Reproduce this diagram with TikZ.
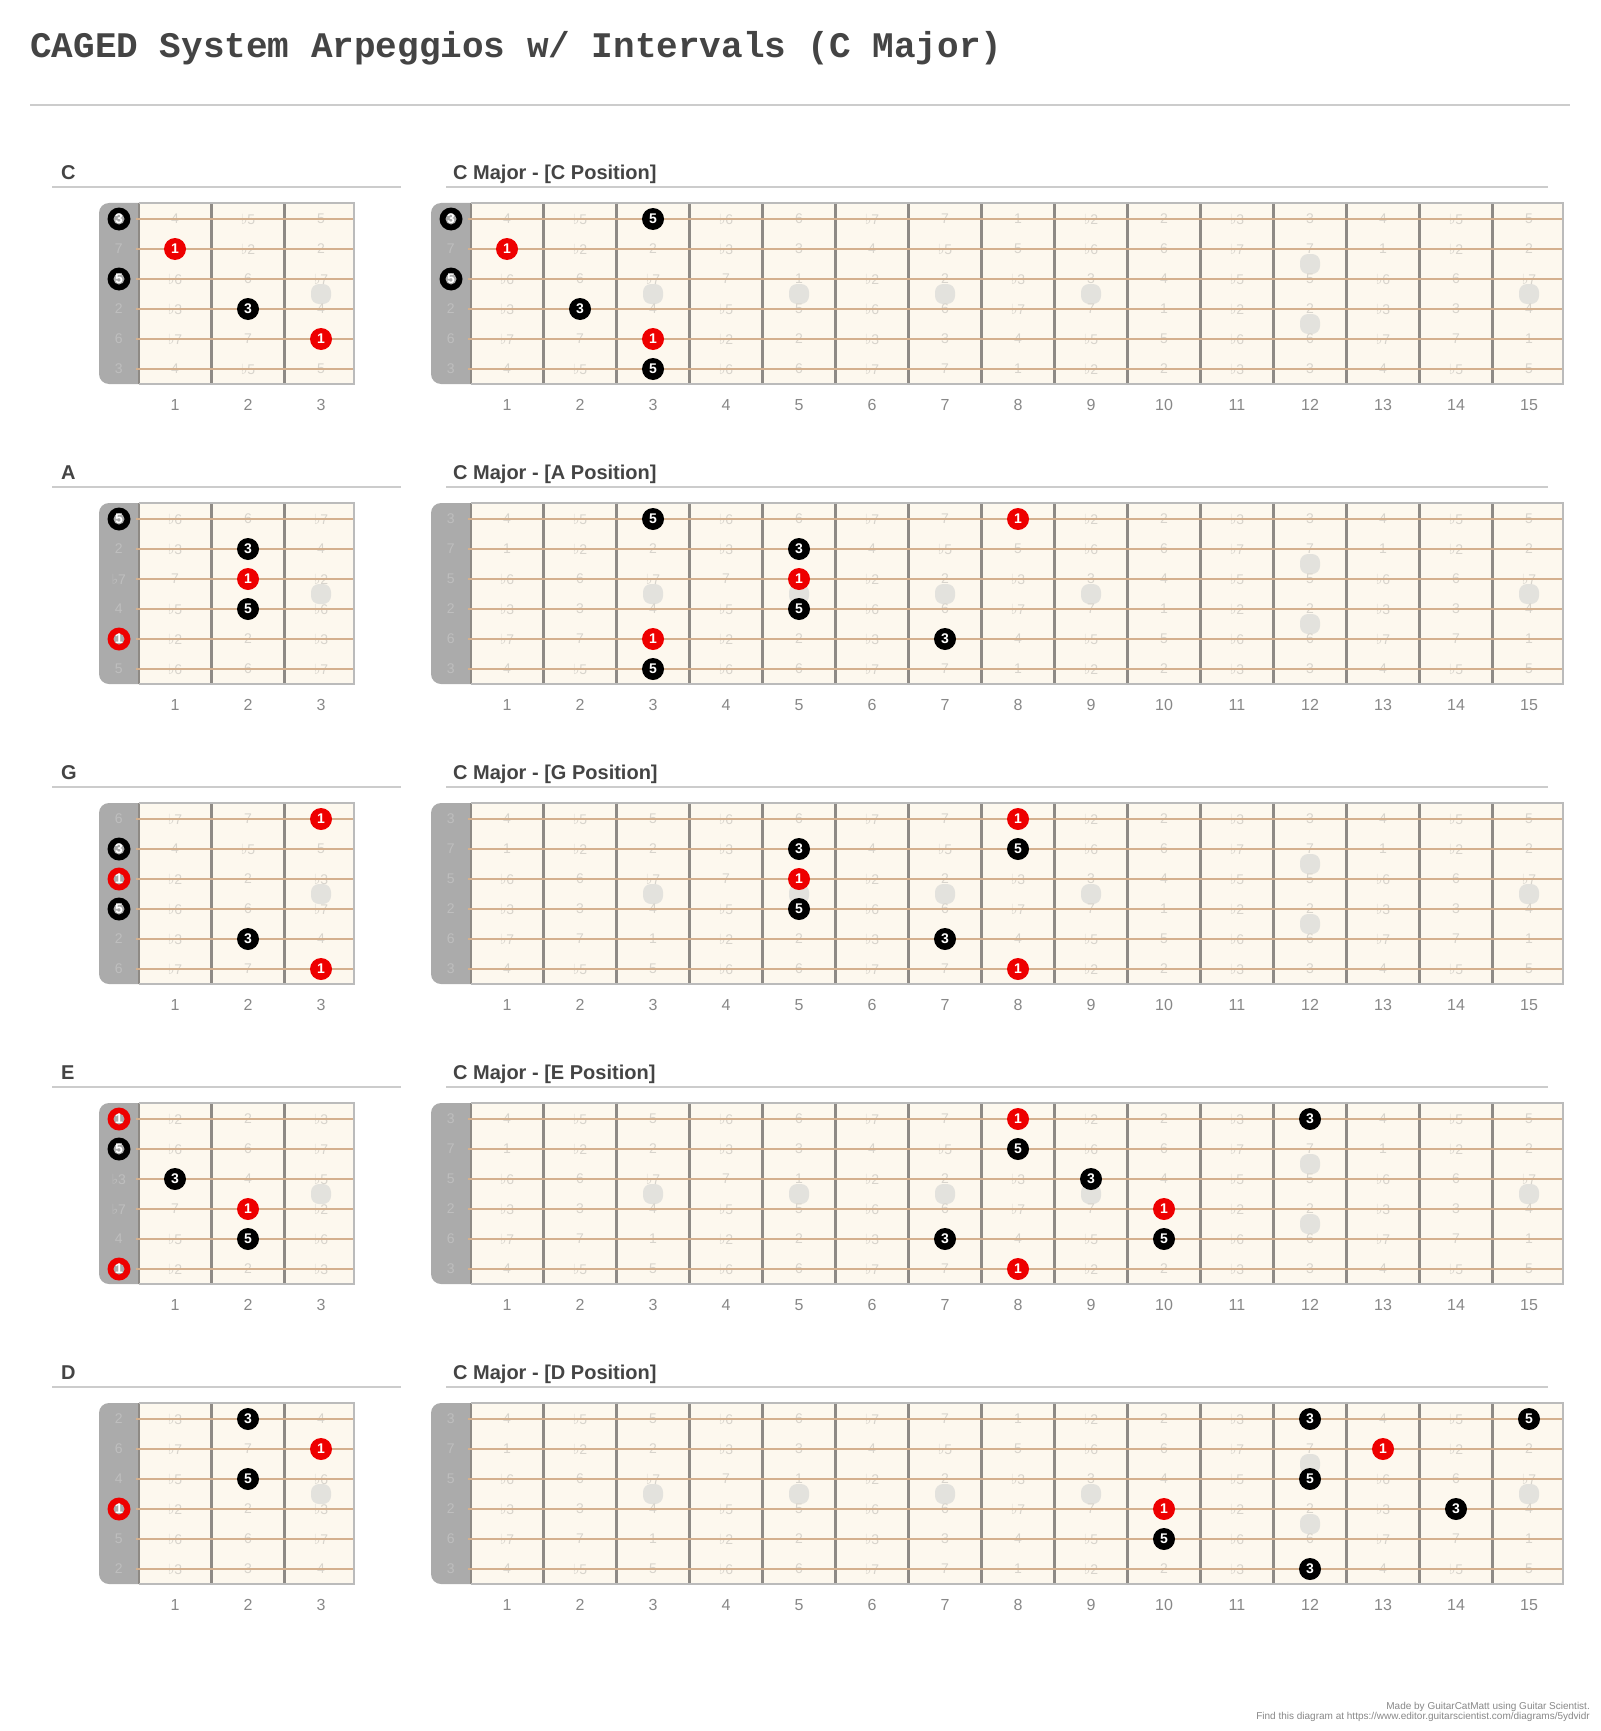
\documentclass[tikz,border=0pt]{standalone}
\usepackage{fontspec}
\setmainfont{Liberation Sans}
\newfontfamily\titlefont{Liberation Mono}
\newfontfamily\symf{DejaVu Sans}
\definecolor{nutbg}{HTML}{ABABAB}
\definecolor{nutlabcol}{HTML}{BEBEBE}
\definecolor{boardbg}{HTML}{FDF8EE}
\definecolor{stringcol}{HTML}{D4B08E}
\definecolor{fretcol}{HTML}{8E8A85}
\definecolor{bordercol}{HTML}{BBBBBB}
\definecolor{inlaycol}{HTML}{E3E2DD}
\definecolor{labcol}{HTML}{D8D4CC}
\definecolor{redmk}{HTML}{EE0000}
\definecolor{fnumcol}{HTML}{888888}
\definecolor{hdrcol}{HTML}{444444}
\definecolor{rulecol}{HTML}{CCCCCC}
\newcommand\fl{{\symf ♭}}
\newcommand\ivname[1]{\ifcase\numexpr#1\relax 1\or\fl 2\or 2\or\fl 3\or 3\or 4\or\fl 5\or 5\or\fl 6\or 6\or\fl 7\or 7\fi}
\newcommand\fw{73}
\tikzset{
  fretlab/.style={font=\fontsize{14}{14}\selectfont, text=labcol, inner sep=0pt},
  nutlab/.style={font=\fontsize{14}{14}\selectfont, text=nutlabcol, inner sep=0pt},
  mklab/.style={font=\bfseries\fontsize{14}{14}\selectfont, text=white, inner sep=0pt},
  fnum/.style={font=\fontsize{16}{16}\selectfont, text=fnumcol, inner sep=0pt},
  hdr/.style={font=\bfseries\fontsize{20}{20}\selectfont, text=hdrcol, inner sep=0pt, anchor=base west},
  rule/.style={rulecol, line width=2pt},
  fretline/.style={fretcol, line width=3pt},
  stringline/.style={stringcol, line width=2pt},
  inlay/.style={fill=inlaycol, rounded corners=8pt},
}
% #1 box left, #2 nut x, #3 frets, #4 right edge, #5 top string y, #6 root
\newcommand\fboard[6]{%
  \pgfmathsetmacro\bt{#5-16}%
  \pgfmathsetmacro\bb{#5+165}%
  \fill[nutbg, rounded corners=10pt] (#1,\bt) rectangle ({#2+14},\bb);
  \fill[boardbg] (#2,\bt) rectangle (#4,\bb);
  \foreach \f in {3,5,7,9,15}{%
    \ifnum\f>#3\else
      \fill[inlay] ({#2+\fw*(\f-0.5)-10},{#5+65}) rectangle ++(20,20);
    \fi}
  \ifnum#3>11
    \fill[inlay] ({#2+\fw*11.5-10},{#5+35}) rectangle ++(20,20);
    \fill[inlay] ({#2+\fw*11.5-10},{#5+95}) rectangle ++(20,20);
  \fi
  \pgfmathtruncatemacro\nf{#3-1}%
  \foreach \k in {1,...,\nf}{%
    \draw[fretline] ({#2+\fw*\k},\bt) -- ({#2+\fw*\k},\bb);}
  \draw[fretcol, line width=2pt] (#2,\bt) -- (#2,\bb);
  \foreach \s/\o in {0/4,1/11,2/7,3/2,4/9,5/4}{%
    \pgfmathtruncatemacro\n{mod(\o-#6+24,12)}%
    \node[nutlab] at ({(#1+#2)/2},{#5+30*\s}) {\ivname{\n}};
    \foreach \f in {1,...,#3}{%
      \pgfmathtruncatemacro\n{mod(\o+\f-#6+24,12)}%
      \node[fretlab] at ({#2+\fw*(\f-0.5)},{#5+30*\s}) {\ivname{\n}};
    }
    \draw[stringline] ({#2-3},{#5+30*\s}) -- (#4,{#5+30*\s});
  }
  \draw[bordercol, line width=1.2pt] (#2,\bt) -- (#4,\bt) -- (#4,\bb) -- (#2,\bb);
  \foreach \f in {1,...,#3}{%
    \node[fnum] at ({#2+\fw*(\f-0.5)},{#5+186}) {\f};}
}
% fretted marker: #1 nut x, #2 top string y, #3 fret, #4 string, #5 colour, #6 text
\newcommand\mkf[6]{%
  \fill[#5] ({#1+\fw*(#3-0.5)},{#2+30*(#4-1)}) circle (11pt);
  \node[mklab] at ({#1+\fw*(#3-0.5)},{#2+30*(#4-1)}) {#6};
}
% open-string marker: #1 nut centre x, #2 top string y, #3 string, #4 colour, #5 text
\newcommand\mko[5]{%
  \fill[#4] (#1,{#2+30*(#3-1)}) circle (11.5pt);
  \fill[nutbg] (#1,{#2+30*(#3-1)}) circle (5.5pt);
  \node[mklab] at (#1,{#2+30*(#3-1)}) {#5};
}
\begin{document}
\begin{tikzpicture}[x=1pt,y=-1pt]
\useasboundingbox (0,0) rectangle (1600,1731);
\fill[white] (0,0) rectangle (1600,1731);
\node[anchor=base west, inner sep=0pt, text=hdrcol, font=\titlefont\bfseries\fontsize{36}{36}\selectfont] (title) at (30,58) {CAGED System Arpeggios w/ Intervals (C Major)};
\draw[rule] (30,105) -- (1570,105);
% rows
\foreach \r/\sh in {0/C,1/A,2/G,3/E,4/D}{%
  \node[hdr] at (61,{179+300*\r}) {\sh};
  \node[hdr] at (453,{179+300*\r}) {C Major - [\sh\ Position]};
  \draw[rule] (52,{187+300*\r}) -- (401,{187+300*\r});
  \draw[rule] (446,{187+300*\r}) -- (1548,{187+300*\r});
}
% boards
\fboard{99}{138.5}{3}{354}{219}{0}
\fboard{431}{470.5}{15}{1563}{219}{0}
\fboard{99}{138.5}{3}{354}{519}{9}
\fboard{431}{470.5}{15}{1563}{519}{0}
\fboard{99}{138.5}{3}{354}{819}{7}
\fboard{431}{470.5}{15}{1563}{819}{0}
\fboard{99}{138.5}{3}{354}{1119}{4}
\fboard{431}{470.5}{15}{1563}{1119}{0}
\fboard{99}{138.5}{3}{354}{1419}{2}
\fboard{431}{470.5}{15}{1563}{1419}{0}
% row 1 markers
\mko{119}{219}{1}{black}{3}
\mko{119}{219}{3}{black}{5}
\mkf{138.5}{219}{1}{2}{redmk}{1}
\mkf{138.5}{219}{2}{4}{black}{3}
\mkf{138.5}{219}{3}{5}{redmk}{1}
\mko{451}{219}{1}{black}{3}
\mko{451}{219}{3}{black}{5}
\mkf{470.5}{219}{3}{1}{black}{5}
\mkf{470.5}{219}{1}{2}{redmk}{1}
\mkf{470.5}{219}{2}{4}{black}{3}
\mkf{470.5}{219}{3}{5}{redmk}{1}
\mkf{470.5}{219}{3}{6}{black}{5}
% row 2
\mko{119}{519}{1}{black}{5}
\mko{119}{519}{5}{redmk}{1}
\mkf{138.5}{519}{2}{2}{black}{3}
\mkf{138.5}{519}{2}{3}{redmk}{1}
\mkf{138.5}{519}{2}{4}{black}{5}
\mkf{470.5}{519}{3}{1}{black}{5}
\mkf{470.5}{519}{8}{1}{redmk}{1}
\mkf{470.5}{519}{5}{2}{black}{3}
\mkf{470.5}{519}{5}{3}{redmk}{1}
\mkf{470.5}{519}{5}{4}{black}{5}
\mkf{470.5}{519}{3}{5}{redmk}{1}
\mkf{470.5}{519}{7}{5}{black}{3}
\mkf{470.5}{519}{3}{6}{black}{5}
% row 3
\mkf{138.5}{819}{3}{1}{redmk}{1}
\mko{119}{819}{2}{black}{3}
\mko{119}{819}{3}{redmk}{1}
\mko{119}{819}{4}{black}{5}
\mkf{138.5}{819}{2}{5}{black}{3}
\mkf{138.5}{819}{3}{6}{redmk}{1}
\mkf{470.5}{819}{8}{1}{redmk}{1}
\mkf{470.5}{819}{5}{2}{black}{3}
\mkf{470.5}{819}{8}{2}{black}{5}
\mkf{470.5}{819}{5}{3}{redmk}{1}
\mkf{470.5}{819}{5}{4}{black}{5}
\mkf{470.5}{819}{7}{5}{black}{3}
\mkf{470.5}{819}{8}{6}{redmk}{1}
% row 4
\mko{119}{1119}{1}{redmk}{1}
\mko{119}{1119}{2}{black}{5}
\mkf{138.5}{1119}{1}{3}{black}{3}
\mkf{138.5}{1119}{2}{4}{redmk}{1}
\mkf{138.5}{1119}{2}{5}{black}{5}
\mko{119}{1119}{6}{redmk}{1}
\mkf{470.5}{1119}{8}{1}{redmk}{1}
\mkf{470.5}{1119}{12}{1}{black}{3}
\mkf{470.5}{1119}{8}{2}{black}{5}
\mkf{470.5}{1119}{9}{3}{black}{3}
\mkf{470.5}{1119}{10}{4}{redmk}{1}
\mkf{470.5}{1119}{7}{5}{black}{3}
\mkf{470.5}{1119}{10}{5}{black}{5}
\mkf{470.5}{1119}{8}{6}{redmk}{1}
% row 5
\mkf{138.5}{1419}{2}{1}{black}{3}
\mkf{138.5}{1419}{3}{2}{redmk}{1}
\mkf{138.5}{1419}{2}{3}{black}{5}
\mko{119}{1419}{4}{redmk}{1}
\mkf{470.5}{1419}{12}{1}{black}{3}
\mkf{470.5}{1419}{15}{1}{black}{5}
\mkf{470.5}{1419}{13}{2}{redmk}{1}
\mkf{470.5}{1419}{12}{3}{black}{5}
\mkf{470.5}{1419}{10}{4}{redmk}{1}
\mkf{470.5}{1419}{14}{4}{black}{3}
\mkf{470.5}{1419}{10}{5}{black}{5}
\mkf{470.5}{1419}{12}{6}{black}{3}
% footer
\node[anchor=base east, inner sep=0pt, text=fnumcol, font=\fontsize{10}{10}\selectfont] (foot1) at (1590,1709) {Made by GuitarCatMatt using Guitar Scientist.};
\node[anchor=base east, inner sep=0pt, text=fnumcol, font=\fontsize{10}{10}\selectfont] (foot2) at (1590,1719) {Find this diagram at https://www.editor.guitarscientist.com/diagrams/5ydvidr};
\end{tikzpicture}
\end{document}
